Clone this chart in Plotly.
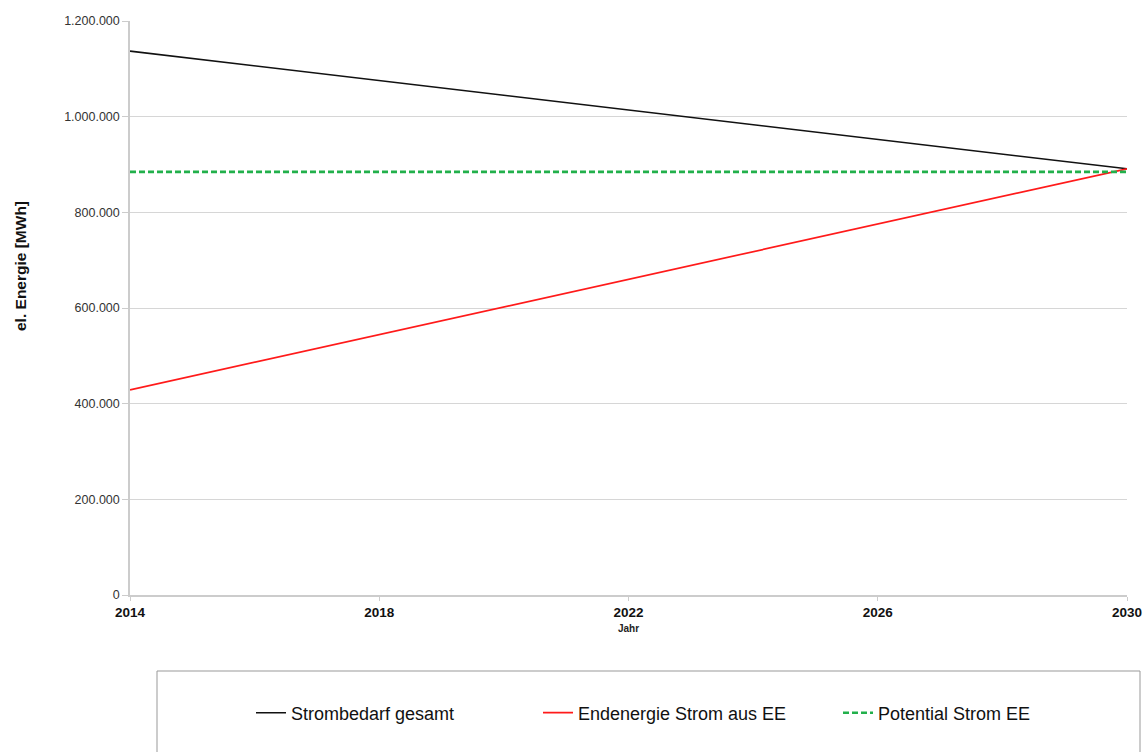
import plotly.graph_objects as go

years = [2014, 2030]
strombedarf = [1137000, 891000]
endenergie_ee = [429000, 891000]
potential_ee = [884500, 884500]

x_ticks = [2014, 2018, 2022, 2026, 2030]
y_ticks = [0, 200000, 400000, 600000, 800000, 1000000, 1200000]

FONT = "Liberation Sans, Arial, sans-serif"

fig = go.Figure()
fig.add_trace(go.Scatter(x=years, y=strombedarf, mode="lines", name="Strombedarf gesamt",
                         line=dict(color="#111111", width=1.6), legend="legend"))
fig.add_trace(go.Scatter(x=years, y=endenergie_ee, mode="lines", name="Endenergie Strom aus EE",
                         line=dict(color="#ff1a1a", width=1.7), legend="legend2"))
fig.add_trace(go.Scatter(x=years, y=potential_ee, mode="lines", name="Potential Strom EE",
                         line=dict(color="#22b04b", width=2.6, dash="6px,3px"), legend="legend3"))

leg_common = dict(orientation="h", yanchor="middle", xanchor="left", y=(595 - 713) / 574,
                  font=dict(family=FONT, size=18, color="#111111"),
                  bgcolor="rgba(0,0,0,0)", borderwidth=0, itemwidth=30)

fig.update_layout(
    width=1146, height=752,
    margin=dict(l=130, r=19, t=21, b=157, autoexpand=False),
    paper_bgcolor="white", plot_bgcolor="white",
    separators=",.",
    font=dict(family=FONT, color="#222222"),
    showlegend=True,
    legend=dict(leg_common, x=(251 - 130) / 997),
    legend2=dict(leg_common, x=(538 - 130) / 997),
    legend3=dict(leg_common, x=(838 - 130) / 997),
    xaxis=dict(range=[2014, 2030], tickvals=x_ticks, ticktext=[f"<b>{v}</b>" for v in x_ticks],
               tickfont=dict(size=13.5, color="#111111"), showgrid=False,
               showline=True, linecolor="#cccccc", linewidth=1.5,
               ticks="outside", ticklen=4, tickcolor="#cccccc",
               title=dict(text="<b>Jahr</b>", font=dict(size=10, color="#222222"), standoff=6),
               zeroline=False, fixedrange=True, automargin=False),
    yaxis=dict(range=[0, 1200000], tickvals=y_ticks, tickformat=",d",
               tickfont=dict(size=12.5, color="#333333"),
               showgrid=True, gridcolor="#d6d6d6", gridwidth=1,
               showline=True, linecolor="#cccccc", linewidth=1.5,
               ticks="outside", ticklen=6, tickcolor="#cccccc",
               zeroline=False, fixedrange=True, automargin=False),
    annotations=[dict(text="<b>el. Energie [MWh]</b>", textangle=-90, xref="paper", yref="paper",
                      x=(20 - 130) / 997, y=(595 - 266) / 574, xanchor="center", yanchor="middle",
                      showarrow=False, font=dict(family=FONT, size=15.5, color="#111111"))],
    shapes=[dict(type="rect", xref="paper", yref="paper",
                 x0=(157 - 130) / 997, x1=(1140 - 130) / 997,
                 y0=(595 - 790) / 574, y1=(595 - 671) / 574,
                 line=dict(color="#999999", width=1), fillcolor="rgba(0,0,0,0)")],
)

fig.write_html("out.html")
